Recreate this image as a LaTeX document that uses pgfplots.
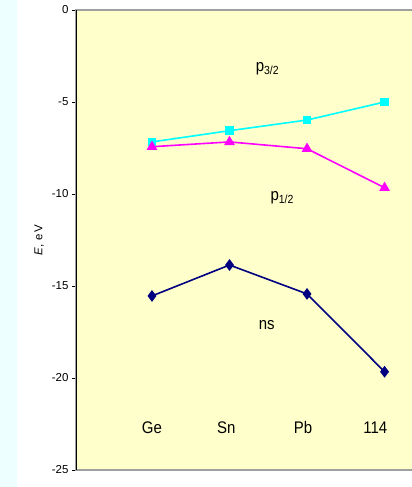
\documentclass[border=0pt]{standalone}
\usepackage{pgfplots}
\pgfplotsset{compat=1.18}
\usepackage{fontspec}
\setmainfont{Liberation Sans}
\definecolor{bgyellow}{RGB}{255,255,204}
\definecolor{navyc}{RGB}{0,0,128}
\definecolor{cyanc}{RGB}{0,255,255}
\definecolor{magc}{RGB}{255,0,255}
\definecolor{stripc}{RGB}{238,255,255}
\definecolor{framegray}{RGB}{160,160,160}
\begin{document}
\begin{tikzpicture}[x=1pt,y=1pt]
\fill[stripc] (0,0) rectangle (17,487);
\path[use as bounding box] (0,0) rectangle (412,487);
\begin{axis}[
  at={(76pt,17pt)}, anchor=south west,
  scale only axis, width=345pt, height=460pt,
  xmin=0.02, xmax=4.47, ymin=-25, ymax=0,
  ytick={-25,-20,...,0}, xtick=\empty,
  ytick pos=left, tick align=outside, major tick length=4pt,
  axis background/.style={fill=bgyellow},
  axis line style={draw=framegray, line width=1.2pt},
  tick style={black, line width=0.7pt},
  ticklabel style={font=\fontsize{11.5}{13}\selectfont},
  /pgf/number format/assume math mode=true,
  ylabel={\addfontfeature{LetterSpace=12}\textit{E}, eV},
  ylabel style={at={(axis description cs:-0.107,0.5)}, anchor=center, font=\fontsize{11.5}{13}\selectfont},
  clip=false,
]
\draw[black, line width=1pt] (rel axis cs:0,0) -- (rel axis cs:0,1);
\addplot[cyanc, line width=1.6pt, mark=square*, mark size=3.6pt, mark options={solid}]
  coordinates {(1,-7.17)(2,-6.56)(3,-5.98)(4,-5.0)};
\addplot[magc, line width=1.6pt, mark=triangle*, mark size=4.6pt, mark options={solid}]
  coordinates {(1,-7.43)(2,-7.17)(3,-7.54)(4,-9.66)};
\addplot[navyc, line width=1.6pt, mark=diamond*, mark size=4.6pt, mark options={solid}]
  coordinates {(1,-15.54)(2,-13.86)(3,-15.43)(4,-19.66)};
\node[font=\fontsize{15}{17}\selectfont] at (axis cs:2.49,-3.2) {\scalebox{1}[1.12]{p\textsubscript{3/2}}};
\node[font=\fontsize{15}{17}\selectfont] at (axis cs:2.68,-10.2) {\scalebox{1}[1.12]{p\textsubscript{1/2}}};
\node[font=\fontsize{15}{17}\selectfont] at (axis cs:2.48,-17.1) {\scalebox{1}[1.12]{ns}};
\node[font=\fontsize{15}{17}\selectfont] at (axis cs:1.0,-22.7) {\scalebox{1}[1.12]{Ge}};
\node[font=\fontsize{15}{17}\selectfont] at (axis cs:1.96,-22.7) {\scalebox{1}[1.12]{Sn}};
\node[font=\fontsize{15}{17}\selectfont] at (axis cs:2.95,-22.7) {\scalebox{1}[1.12]{Pb}};
\node[font=\fontsize{15}{17}\selectfont] at (axis cs:3.88,-22.7) {\scalebox{1}[1.12]{114}};
\end{axis}
\end{tikzpicture}
\end{document}
